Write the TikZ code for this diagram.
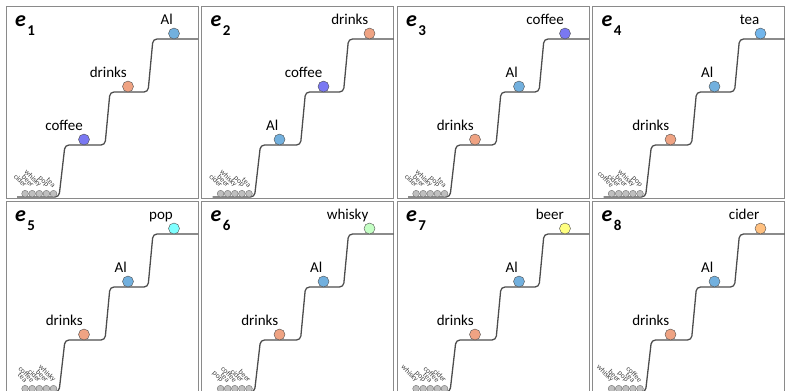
\documentclass[tikz,border=0pt]{standalone}
\usepackage{fontspec}
\setmainfont{Carlito}
\usepackage{tikz}
\usetikzlibrary{positioning}
\definecolor{stairc}{HTML}{4D4D4D}
\definecolor{framec}{HTML}{8A8A8A}
\definecolor{coffeec}{HTML}{7A78F2}
\definecolor{drinksc}{HTML}{EFA383}
\definecolor{alc}{HTML}{72B0DE}
\definecolor{teac}{HTML}{72B6EC}
\definecolor{popc}{HTML}{80FFFF}
\definecolor{whiskyc}{HTML}{C4FFC4}
\definecolor{beerc}{HTML}{FFFF80}
\definecolor{ciderc}{HTML}{FFC080}
\definecolor{pebblec}{HTML}{BFBFBF}

\begin{document}
\begin{tikzpicture}[x=1pt,y=-1pt,
  ball/.style={circle,draw=stairc,fill=#1,minimum size=11pt,inner sep=0pt},
  sball/.style={circle,draw=stairc!80,fill=pebblec,minimum size=6.8pt,inner sep=0pt},
  word/.style={font=\fontsize{15}{15}\selectfont,inner sep=0pt,anchor=base east},
  tinyword/.style={font=\fontsize{7.5}{7.5}\selectfont,text=black!75,inner sep=0pt,rotate=-45,anchor=east},
  stair/.style={stairc,line width=1.3pt,rounded corners=4pt},
  elabel/.style={font=\fontsize{22}{22}\selectfont\bfseries\itshape,inner sep=0pt,anchor=base west},
  esub/.style={font=\fontsize{15}{15}\selectfont\bfseries,inner sep=0pt,anchor=base west}]
\useasboundingbox (0,0) rectangle (785,391);
\clip (0,0) rectangle (785,391);
\foreach \px/\py/\n/\la/\ca/\lb/\cb/\lc/\cc/\rest in {
  6/6/1/coffee/coffeec/drinks/drinksc/Al/alc/{cider,beer,whisky,pop,tea},
  201.5/6/2/Al/alc/coffee/coffeec/drinks/drinksc/{cider,beer,whisky,pop,tea},
  397/6/3/drinks/drinksc/Al/alc/coffee/coffeec/{cider,beer,whisky,pop,tea},
  592.5/6/4/drinks/drinksc/Al/alc/tea/teac/{coffee,cider,beer,whisky,pop},
  6/201/5/drinks/drinksc/Al/alc/pop/popc/{tea,coffee,cider,beer,whisky},
  201.5/201/6/drinks/drinksc/Al/alc/whisky/whiskyc/{pop,tea,coffee,cider,beer},
  397/201/7/drinks/drinksc/Al/alc/beer/beerc/{whisky,pop,tea,coffee,cider},
  592.5/201/8/drinks/drinksc/Al/alc/cider/ciderc/{whisky,beer,pop,tea,coffee}}{
  \begin{scope}[shift={(\px,\py)}]
    \draw[framec,line width=0.8pt] (0,0) rectangle (192,192);
    \draw[stair] (11,191) -- (53,191) -- (59,139) -- (99,139) -- (104,86) -- (142,86) -- (147,33) -- (192,33);
    \node[elabel] (e\n) at (9,20) {e};
    \node[esub] at ([shift={(1pt,-9pt)}]e\n.base east) {\n};
    \node[ball=\ca] (b\n-1) at (78,133.5) {};
    \node[ball=\cb] (b\n-2) at (122,80.5) {};
    \node[ball=\cc] (b\n-3) at (168,27.5) {};
    \node[word] (w\n-1) at ([shift={(-1pt,3pt)}]b\n-1.north) {\la};
    \node[word] (w\n-2) at ([shift={(-1pt,3pt)}]b\n-2.north) {\lb};
    \node[word] (w\n-3) at ([shift={(-1pt,3pt)}]b\n-3.north) {\lc};
    \foreach \w [count=\k] in \rest {
      \node[sball] (s\n-\k) at ({12+7.1*\k},187.7) {};
      \node[tinyword] at ([shift={(1pt,4pt)}]s\n-\k.north) {\w};}
  \end{scope}}
\end{tikzpicture}
\end{document}
